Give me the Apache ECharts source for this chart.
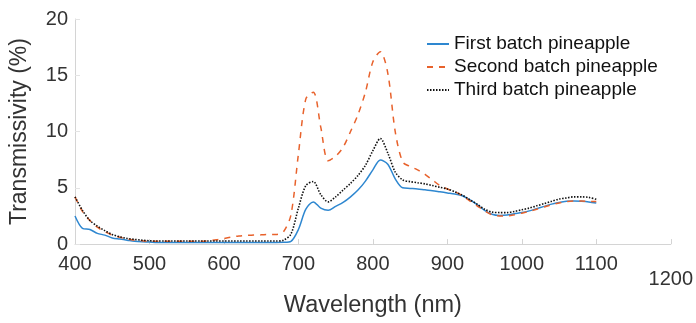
<!DOCTYPE html>
<html>
<head>
<meta charset="utf-8">
<script src="https://cdn.jsdelivr.net/npm/echarts@6/dist/echarts.min.js"></script>
<style>html,body{margin:0;padding:0;background:#fff;}#c{width:696px;height:323px;}</style>
</head>
<body>
<div id="c"></div>
<script>
const wavelengths = [400,410,420,430,440,450,460,470,480,490,500,510,520,530,540,550,560,570,580,590,600,610,620,630,640,650,660,670,680,690,700,710,720,730,740,750,760,770,780,790,800,810,820,830,840,850,860,870,880,890,900,910,920,930,940,950,960,970,980,990,1000,1010,1020,1030,1040,1050,1060,1070,1080,1090,1100];
const firstBatch = [2.5,1.4,1.3,0.95,0.8,0.55,0.45,0.35,0.25,0.2,0.18,0.15,0.15,0.15,0.15,0.15,0.15,0.15,0.15,0.15,0.15,0.15,0.15,0.15,0.15,0.15,0.15,0.15,0.16,0.25,1.3,3.1,3.75,3.2,3.0,3.35,3.7,4.2,4.8,5.6,6.6,7.47,7.1,5.8,5.0,4.95,4.9,4.82,4.75,4.65,4.55,4.45,4.3,3.95,3.5,3.0,2.65,2.55,2.58,2.7,2.8,2.95,3.15,3.35,3.55,3.7,3.8,3.82,3.8,3.75,3.65];
const secondBatch = [4.2,2.9,2.1,1.5,1.1,0.8,0.6,0.45,0.35,0.3,0.25,0.25,0.25,0.25,0.25,0.25,0.25,0.25,0.3,0.38,0.5,0.62,0.72,0.78,0.8,0.82,0.85,0.85,1.1,2.6,8.0,12.9,13.5,10.4,7.4,7.8,8.6,10.0,11.5,13.5,16.2,17.1,15.2,10.0,7.3,6.9,6.6,6.2,5.7,5.2,4.9,4.65,4.3,3.85,3.4,2.95,2.6,2.5,2.5,2.6,2.75,2.9,3.1,3.3,3.5,3.65,3.78,3.82,3.82,3.8,3.78];
const thirdBatch = [4.2,3.0,2.1,1.6,1.2,0.85,0.65,0.5,0.42,0.35,0.3,0.27,0.27,0.27,0.27,0.27,0.27,0.27,0.27,0.27,0.27,0.27,0.27,0.27,0.27,0.27,0.27,0.27,0.35,0.9,3.2,5.2,5.55,4.4,3.75,4.2,4.8,5.4,6.1,7.0,8.3,9.38,8.1,6.4,5.7,5.55,5.45,5.35,5.2,5.05,4.9,4.65,4.35,3.95,3.55,3.1,2.85,2.8,2.8,2.9,3.05,3.2,3.4,3.6,3.8,4.0,4.1,4.2,4.2,4.15,3.98];
const seriesNames = ['First batch pineapple','Second batch pineapple','Third batch pineapple'];

const pair = arr => wavelengths.map((w,i)=>[w,arr[i]]);
const font = 'Liberation Sans, Arial, sans-serif';
const chart = echarts.init(document.getElementById('c'), null, {renderer:'canvas'});
chart.setOption({
  animation:false,
  backgroundColor:'#fff',
  grid:{left:71,right:24,top:19,bottom:76},
  legend:{
    orient:'vertical', left:421, top:29, itemGap:3,
    itemWidth:22, itemHeight:14,
    itemStyle:{opacity:0},
    textStyle:{fontFamily:font,fontSize:19,color:'#111',lineHeight:20},
    data:seriesNames
  },
  xAxis:{
    type:'value', min:400, max:1200, interval:100,
    name:'Wavelength (nm)', nameLocation:'middle', nameGap:49,
    nameTextStyle:{fontFamily:font,fontSize:23.5,color:'#333'},
    axisLine:{lineStyle:{color:'#d4d4d4',width:1}},
    axisTick:{inside:true,length:5,lineStyle:{color:'#d4d4d4'}},
    splitLine:{show:false},
    axisLabel:{fontFamily:font,fontSize:20,color:'#333',margin:10,
      formatter:v=> v===1200 ? '{s|1200}' : String(v),
      rich:{s:{fontFamily:font,fontSize:20,color:'#333',padding:[15,0,0,0]}}}
  },
  yAxis:{
    type:'value', min:0, max:20, interval:5,
    name:'Transmissivity (%)', nameLocation:'middle', nameGap:44,
    nameTextStyle:{fontFamily:font,fontSize:23,color:'#333'},
    axisLine:{show:true,lineStyle:{color:'#d4d4d4',width:1}},
    axisTick:{show:true,inside:true,length:5,lineStyle:{color:'#e4e4e4'}},
    splitLine:{show:false},
    axisLabel:{fontFamily:font,fontSize:20,color:'#333',margin:7}
  },
  series:[
    {name:seriesNames[0],type:'line',data:pair(firstBatch),smooth:0.3,symbol:'none',
     lineStyle:{color:'#2e87d0',width:1.5,type:'solid'},itemStyle:{color:'#2e87d0'}},
    {name:seriesNames[1],type:'line',data:pair(secondBatch),smooth:0.3,symbol:'none',
     lineStyle:{color:'#e8622c',width:1.5,type:[6,6]},itemStyle:{color:'#e8622c'}},
    {name:seriesNames[2],type:'line',data:pair(thirdBatch),smooth:0.3,symbol:'none',
     lineStyle:{color:'#111',width:1.6,type:[1.5,1.5]},itemStyle:{color:'#111'}}
  ]
});
</script>
</body>
</html>
